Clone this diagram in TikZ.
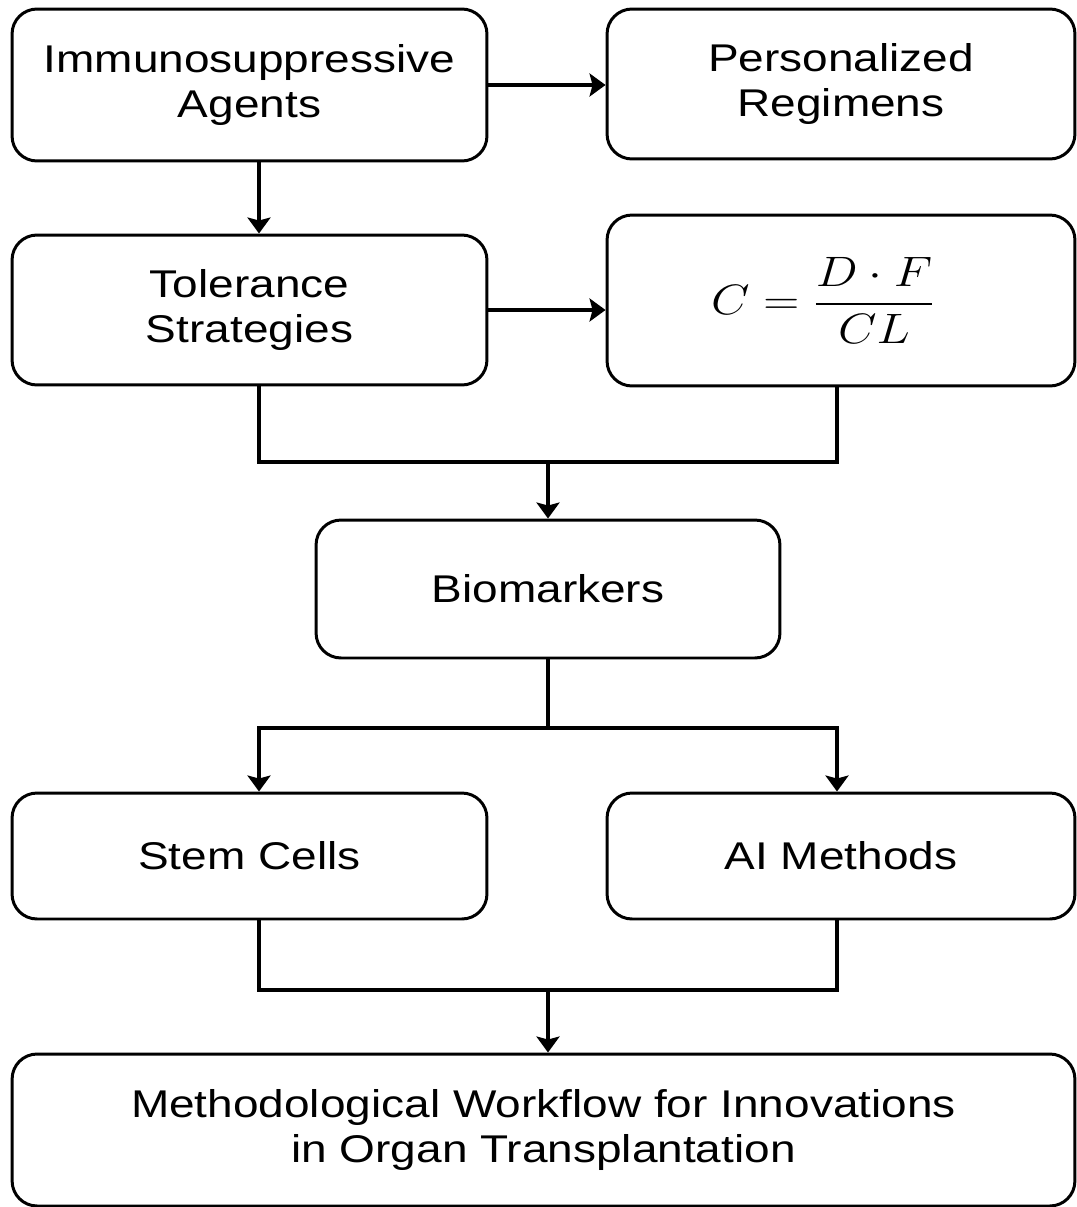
\RequirePackage{fix-cm}
\documentclass[tikz,border=0pt]{standalone}
\usepackage{fontspec}
\setmainfont[FakeStretch=1.19]{Liberation Sans}
\usepackage{amsmath}
\usepackage{graphicx}
\usetikzlibrary{arrows.meta}

\tikzset{
  blk/.style={draw, line width=1.7pt, rounded corners=0.5cm, align=center,
    inner sep=0pt, font=\fontsize{22}{26}\selectfont},
  lnk/.style={line width=1.8pt},
  arr/.style={line width=1.8pt, -{Stealth[length=0.32cm,width=0.46cm,inset=0.06cm]}}
}

\begin{document}
\begin{tikzpicture}[x=0.02cm,y=-0.02cm]
  \useasboundingbox (0,0) rectangle (1077,1207);

  %% boxes
  \node[blk, minimum width=9.5cm, minimum height=3.04cm] (agents) at (249.5,85)
    {Immunosuppressive\\Agents};
  \node[blk, minimum width=9.36cm, minimum height=3.0cm] (regimens) at (841,84)
    {Personalized\\Regimens};
  \node[blk, minimum width=9.5cm, minimum height=3.0cm] (tolerance) at (249.5,310)
    {Tolerance\\Strategies};
  \node[blk, minimum width=9.36cm, minimum height=3.42cm] (formula) at (841,300.5)
    {\scalebox{1.29}[1.1]{$\displaystyle C=\frac{D\cdot F}{CL}$}\hspace*{0.72cm}};
  \node[blk, minimum width=9.28cm, minimum height=2.76cm] (bio) at (548,589)
    {Biomarkers};
  \node[blk, minimum width=9.5cm, minimum height=2.52cm] (stem) at (249.5,856)
    {Stem Cells};
  \node[blk, minimum width=9.36cm, minimum height=2.52cm] (ai) at (841,856)
    {AI Methods};
  \node[blk, minimum width=21.26cm, minimum height=3.04cm] (workflow) at (543.5,1130)
    {Methodological Workflow for Innovations\\in Organ Transplantation};

  %% columns and junctions
  \coordinate (lcol) at (259,0);
  \coordinate (rcol) at (837,0);
  \coordinate (m1) at (548,462);
  \coordinate (s1) at (548,728);
  \coordinate (m2) at (548,990);

  %% top rows
  \draw[arr] (agents.east) -- (agents.east -| regimens.west);
  \draw[arr] (agents.south -| lcol) -- (tolerance.north -| lcol);
  \draw[arr] (tolerance.east) -- (tolerance.east -| formula.west);

  %% merge into biomarkers
  \draw[lnk] (tolerance.south -| lcol) |- (m1) -| (formula.south -| rcol);
  \draw[arr] (m1) -- (m1 |- bio.north);

  %% split
  \draw[lnk] (bio.south -| s1) -- (s1);
  \draw[arr] (s1) -| (stem.north -| lcol);
  \draw[arr] (s1) -| (ai.north -| rcol);

  %% merge into workflow
  \draw[lnk] (stem.south -| lcol) |- (m2) -| (ai.south -| rcol);
  \draw[arr] (m2) -- (m2 |- workflow.north);

\end{tikzpicture}
\end{document}
